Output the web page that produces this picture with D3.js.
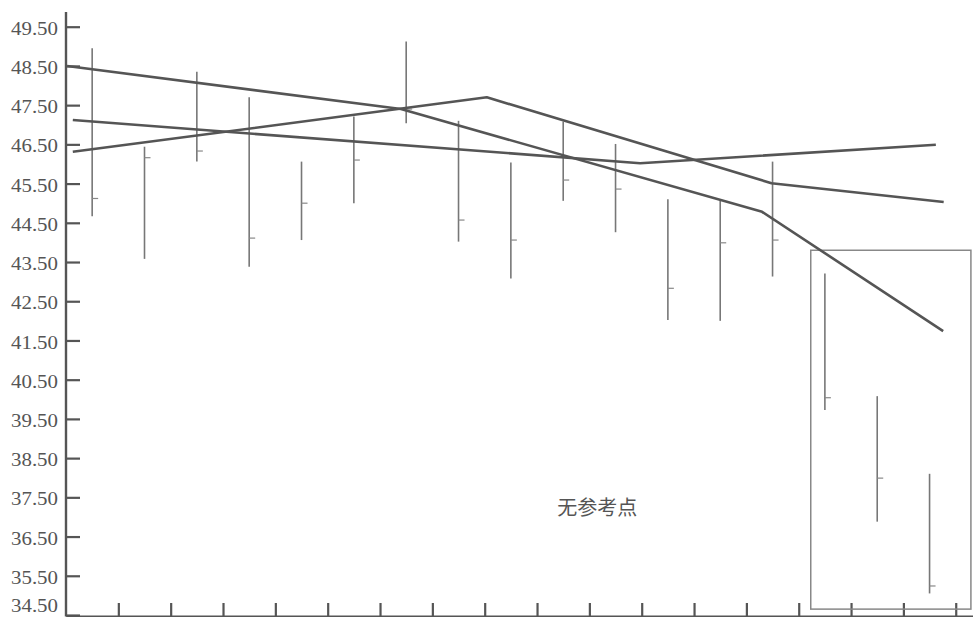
<!DOCTYPE html>
<html>
<head>
<meta charset="utf-8">
<script src="https://cdn.jsdelivr.net/npm/d3@7"></script>
<style>
  html, body { margin: 0; padding: 0; background: #fff; }
  svg { display: block; }
</style>
</head>
<body>
<svg id="chart" width="973" height="617"></svg>
<script>
// ---- data ----
const days  = [1, 2, 3, 4, 5, 6, 7, 8, 9, 10, 11, 12, 13, 14, 15, 16, 17];
const high  = [48.95, 46.44, 48.35, 47.70, 46.06, 47.21, 49.12, 47.10, 46.04, 47.08, 46.51, 45.10, 45.06, 46.06, 43.21, 40.08, 38.10];
const low   = [44.67, 43.58, 46.06, 43.38, 44.06, 45.00, 47.04, 44.02, 43.08, 45.06, 44.26, 42.02, 42.00, 43.13, 39.73, 36.88, 35.05];
const close = [45.12, 46.16, 46.33, 44.11, 45.00, 46.10, 47.40, 44.57, 44.06, 45.59, 45.36, 42.83, 43.99, 44.06, 40.04, 37.99, 35.24];

const yTickValues = [49.5, 48.5, 47.5, 46.5, 45.5, 44.5, 43.5, 42.5, 41.5, 40.5, 39.5, 38.5, 37.5, 36.5, 35.5, 34.5];
const xTickValues = [1, 2, 3, 4, 5, 6, 7, 8, 9, 10, 11, 12, 13, 14, 15, 16, 17];

// trend lines (x in day-index units, y in price)
const lineAx = [0.02, 6.40, 13.30, 16.76];
const lineAy = [48.50, 47.40, 44.78, 41.74];
const lineBx = [0.13, 8.04, 13.48, 16.77];
const lineBy = [46.31, 47.70, 45.51, 45.03];
const lineCx = [0.13, 10.97, 16.62];
const lineCy = [47.12, 46.02, 46.49];

// annotation box and label
const boxX = [14.23, 17.29];
const boxY = [34.65, 43.80];
const noteText = "无参考点";
const noteX = 10.15;
const noteY = 37.18;

// ---- drawing ----
const svg = d3.select("#chart");
const x = d3.scaleLinear().domain([0, 17.33]).range([66, 973]);
const y = d3.scaleLinear().domain([34.5, 49.5]).range([615, 26.7]);
const ink = "#555";

// y axis
const yAxis = d3.axisLeft(y)
  .tickValues(yTickValues)
  .tickSize(-14)
  .tickSizeOuter(0)
  .tickPadding(8)
  .tickFormat(d3.format(".2f"));
const gy = svg.append("g").attr("transform", `translate(${x(0)},0)`).call(yAxis);
gy.select(".domain").remove();
gy.selectAll(".tick line").attr("stroke", ink).attr("stroke-width", 2.2);
gy.selectAll(".tick text")
  .attr("fill", ink)
  .style("font-family", "'Liberation Serif', 'Times New Roman', serif")
  .style("font-size", "19px")
  .attr("textLength", 47)
  .attr("lengthAdjust", "spacingAndGlyphs")
  .attr("dy", d => d === 34.5 ? "-0.2em" : "0.4em");
svg.append("line")
  .attr("x1", x(0)).attr("x2", x(0))
  .attr("y1", 12).attr("y2", 616.5)
  .attr("stroke", ink).attr("stroke-width", 2.4);

// x axis
const xAxis = d3.axisBottom(x)
  .tickValues(xTickValues)
  .tickSize(-13)
  .tickSizeOuter(0)
  .tickFormat("");
const gx = svg.append("g").attr("transform", `translate(0,${y(34.5) + 1})`).call(xAxis);
gx.select(".domain").attr("stroke", ink).attr("stroke-width", 2.2);
gx.selectAll(".tick line").attr("stroke", ink).attr("stroke-width", 2.2);

// annotation box
svg.append("rect")
  .attr("x", x(boxX[0])).attr("y", y(boxY[1]))
  .attr("width", x(boxX[1]) - x(boxX[0]))
  .attr("height", y(boxY[0]) - y(boxY[1]))
  .attr("fill", "none").attr("stroke", "#888").attr("stroke-width", 1.5);

// high-low-close bars
const bars = svg.append("g");
days.forEach((d, i) => {
  const cx = x(d - 0.5);
  bars.append("line")
    .attr("x1", cx).attr("x2", cx)
    .attr("y1", y(high[i])).attr("y2", y(low[i]))
    .attr("stroke", "#777").attr("stroke-width", 1.6);
  bars.append("line")
    .attr("x1", cx).attr("x2", cx + 6)
    .attr("y1", y(close[i])).attr("y2", y(close[i]))
    .attr("stroke", "#888").attr("stroke-width", 1.2);
});

// trend lines
const lineGen = d3.line().x(p => x(p[0])).y(p => y(p[1]));
[[lineAx, lineAy], [lineBx, lineBy], [lineCx, lineCy]].forEach(([xs, ys]) => {
  svg.append("path")
    .datum(xs.map((v, i) => [v, ys[i]]))
    .attr("d", lineGen)
    .attr("fill", "none")
    .attr("stroke", "#555")
    .attr("stroke-width", 2.6)
    .attr("stroke-linejoin", "round");
});

// note
svg.append("text")
  .attr("x", x(noteX)).attr("y", y(noteY))
  .attr("text-anchor", "middle")
  .attr("dominant-baseline", "middle")
  .attr("fill", "#555")
  .style("font-family", "'Noto Sans CJK SC', sans-serif")
  .style("font-size", "20px")
  .text(noteText);
</script>
</body>
</html>
